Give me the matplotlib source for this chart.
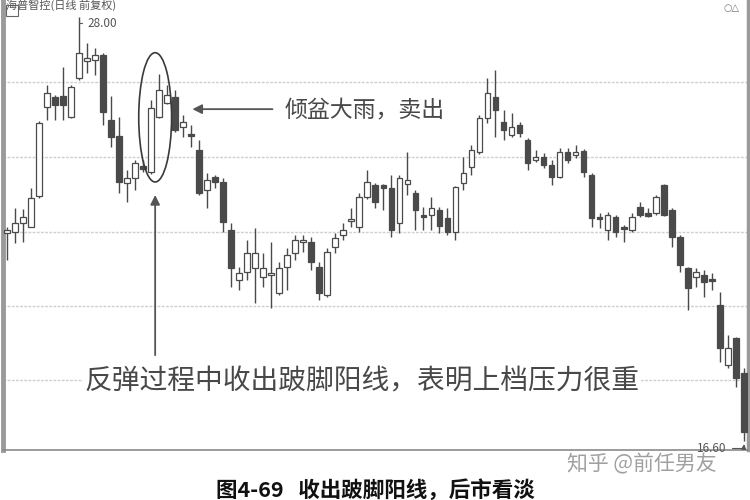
import matplotlib
matplotlib.use("Agg")
import matplotlib.pyplot as plt
from matplotlib.patches import Ellipse, Rectangle

plt.rcParams['font.family'] = ['Noto Sans CJK SC', 'DejaVu Sans']

# daily candles (price units)
opens = [22.19, 22.22, 22.46, 22.35, 23.19, 25.58, 25.85, 25.87, 25.31, 26.36,
         26.81, 26.84, 26.97, 25.23, 24.80, 23.54, 23.67, 24.00, 23.83, 25.31,
         25.68, 25.85, 25.04, 24.85, 24.42, 23.35, 23.70, 23.56, 22.27, 20.93,
         21.15, 21.25, 21.01, 21.07, 20.58, 21.28, 21.66, 21.96, 21.95, 21.28,
         20.53, 21.82, 22.14, 22.52, 22.36, 23.16, 23.48, 23.48, 23.40, 22.46,
         23.51, 23.27, 22.68, 22.68, 22.81, 22.60, 22.22, 23.54, 23.97, 24.37,
         25.28, 25.85, 25.17, 24.83, 25.09, 24.69, 24.15, 24.23, 24.02, 23.70,
         24.37, 24.29, 24.40, 23.75, 22.63, 22.27, 22.62, 22.36, 22.27, 22.89,
         22.73, 22.73, 23.48, 22.81, 22.09, 21.25, 21.01, 21.07, 20.96, 20.26,
         18.65, 19.38, 18.43]
highs = [22.35, 22.86, 22.84, 23.40, 25.20, 26.17, 25.90, 26.65, 26.17, 28.00,
         27.30, 27.16, 27.03, 25.87, 25.31, 23.89, 24.15, 24.15, 25.77, 26.46,
         26.17, 26.03, 25.36, 25.09, 24.69, 23.80, 23.75, 23.67, 22.46, 21.28,
         22.01, 22.33, 21.66, 21.95, 21.42, 21.79, 22.14, 22.14, 22.09, 21.42,
         21.79, 22.19, 22.46, 22.87, 23.27, 23.89, 23.54, 23.51, 23.75, 23.75,
         24.37, 23.35, 22.89, 23.16, 22.89, 22.87, 23.46, 24.23, 24.56, 25.36,
         26.36, 26.57, 25.50, 25.42, 25.17, 24.75, 24.42, 24.34, 24.15, 24.48,
         24.48, 24.56, 24.45, 23.81, 22.73, 22.76, 22.68, 22.41, 22.73, 23.03,
         22.87, 23.21, 23.51, 22.87, 22.14, 21.28, 21.25, 21.20, 21.12, 20.61,
         19.46, 19.40, 18.57]
lows = [21.47, 21.93, 21.95, 22.35, 23.13, 25.23, 25.23, 25.23, 25.28, 26.30,
        26.49, 26.44, 25.09, 24.50, 23.27, 23.03, 23.35, 23.83, 23.78, 25.28,
        25.66, 24.91, 24.77, 24.50, 23.21, 22.87, 23.40, 22.22, 20.74, 20.66,
        20.93, 20.31, 20.74, 20.18, 20.53, 20.66, 21.47, 21.68, 21.20, 20.40,
        20.48, 21.66, 22.01, 22.36, 22.22, 23.11, 22.87, 22.81, 22.09, 22.19,
        23.21, 22.27, 22.27, 22.27, 22.19, 22.14, 22.01, 23.35, 23.75, 24.32,
        25.15, 24.77, 24.69, 24.77, 24.77, 23.89, 24.10, 23.94, 23.48, 23.67,
        24.07, 24.21, 23.70, 22.36, 22.33, 22.01, 22.09, 21.95, 22.22, 22.62,
        22.62, 22.68, 22.65, 21.82, 21.15, 20.13, 20.74, 20.48, 20.66, 18.73,
        18.57, 18.06, 16.60]
closes = [22.27, 22.46, 22.62, 23.13, 25.15, 25.95, 25.63, 25.63, 26.11, 27.03,
          26.89, 26.97, 25.44, 24.77, 23.56, 23.67, 24.07, 23.90, 25.55, 26.03,
          25.90, 24.96, 25.17, 24.80, 23.27, 23.62, 23.56, 22.49, 21.25, 21.12,
          21.66, 21.66, 21.25, 21.10, 21.25, 21.60, 22.01, 22.01, 21.42, 20.58,
          21.68, 22.06, 22.27, 22.57, 23.16, 23.56, 23.03, 23.40, 22.27, 23.67,
          23.62, 22.81, 22.63, 22.87, 22.38, 22.22, 23.43, 23.81, 24.42, 25.28,
          25.95, 25.50, 24.96, 25.04, 24.88, 24.07, 24.23, 24.02, 23.70, 24.37,
          24.15, 24.37, 23.83, 22.60, 22.57, 22.68, 22.22, 22.30, 22.62, 22.68,
          22.65, 23.16, 22.68, 22.09, 21.33, 20.72, 21.15, 20.88, 20.91, 19.11,
          19.11, 18.30, 16.85]

grid_levels = [26.25, 24.23, 22.22, 20.23, 18.25]
title = "海普智控(日线 前复权)"
note_top = "倾盆大雨，卖出"
note_bottom = "反弹过程中收出跛脚阳线，表明上档压力很重"
caption = "图4-69   收出跛脚阳线，后市看淡"
watermark = "知乎 @前任男友"

edge = "#4a4a4a"
dark = "#4a4a4a"

fig = plt.figure(figsize=(7.5, 5), dpi=100)
ax = fig.add_axes([0.004, 0.1, 0.993, 0.9])

n = len(opens)
xs = list(range(n))
ax.vlines(xs, lows, highs, color=edge, lw=1.0, zorder=2)
bottoms = [min(o, c) for o, c in zip(opens, closes)]
heights = [max(abs(c - o), 0.04) for o, c in zip(opens, closes)]
faces = ["white" if c >= o else dark for o, c in zip(opens, closes)]
ax.bar(xs, heights, bottom=bottoms, width=0.72, color=faces,
       edgecolor=edge, linewidth=0.9, zorder=3)

ax.set_xlim(-0.5, 92.5)
ax.set_ylim(16.37, 28.45)
ax.set_yticks(grid_levels)
ax.set_xticks([])
ax.tick_params(left=False, labelleft=False)
ax.yaxis.grid(True, linestyle=(0, (2, 1)), color="#cfcfcf", lw=1.0, zorder=0)
ax.set_axisbelow(True)
ax.spines["top"].set_visible(False)
ax.spines["left"].set_color("#9a9a9a")
ax.spines["left"].set_linewidth(3.5)
ax.spines["right"].set_color("#9a9a9a")
ax.spines["right"].set_linewidth(2.5)
ax.spines["bottom"].set_color("#8a8a8a")
ax.spines["bottom"].set_linewidth(1.2)

# ellipse around the rebound candles
ax.add_patch(Ellipse((18.5, 25.3), 4.1, 3.47, fill=False, edgecolor="#3a3a3a",
                     lw=1.2, zorder=4))

# high / low marks
ax.annotate("28.00", xy=(9, 28.0), xytext=(10.0, 27.83), fontsize=8.5,
            color="#555555", va="center",
            arrowprops=dict(arrowstyle="-", color="#555555", lw=0.8,
                            connectionstyle="angle,angleA=0,angleB=90"))
ax.annotate("16.60", xy=(92, 16.60), xytext=(86.2, 16.42), fontsize=8.5,
            color="#555555", va="center",
            arrowprops=dict(arrowstyle="-|>", color="#555555", lw=0.8,
                            mutation_scale=7,
                            connectionstyle="angle,angleA=0,angleB=90"))

# arrows and notes
ax.annotate("", xy=(22.8, 25.52), xytext=(33.5, 25.52),
            arrowprops=dict(arrowstyle="-|>", color="#555555", lw=1.3,
                            mutation_scale=14), zorder=5)
ax.text(34.7, 25.5, note_top, fontsize=16.5, color="#484848", va="center",
        ha="left", zorder=5)
ax.annotate("", xy=(18.5, 23.29), xytext=(18.5, 18.84),
            arrowprops=dict(arrowstyle="-|>", color="#555555", lw=1.3,
                            mutation_scale=14), zorder=5)
ax.text(44.3, 18.22, note_bottom, fontsize=20, color="#484848", va="center",
        ha="center", zorder=5,
        bbox=dict(facecolor="white", edgecolor="none", pad=1))

# header and small icons
fig.text(0.008, 0.99, title, fontsize=8, color="#555555", va="center")
fig.add_artist(Rectangle((0.008, 0.968), 0.016, 0.022, fill=False,
                         edgecolor="#666666", lw=0.8,
                         transform=fig.transFigure))
fig.text(0.965, 0.985, "○△", fontsize=7, color="#777777", va="center",
         ha="left", family=["DejaVu Sans"])

fig.text(0.856, 0.072, watermark, fontsize=15, color="#a0a0a0",
         ha="center", va="center")
fig.text(0.5, 0.042, caption, fontsize=15.5, fontweight="bold",
         color="#111111", ha="center", va="top")

fig.savefig("out.png", dpi=100)
